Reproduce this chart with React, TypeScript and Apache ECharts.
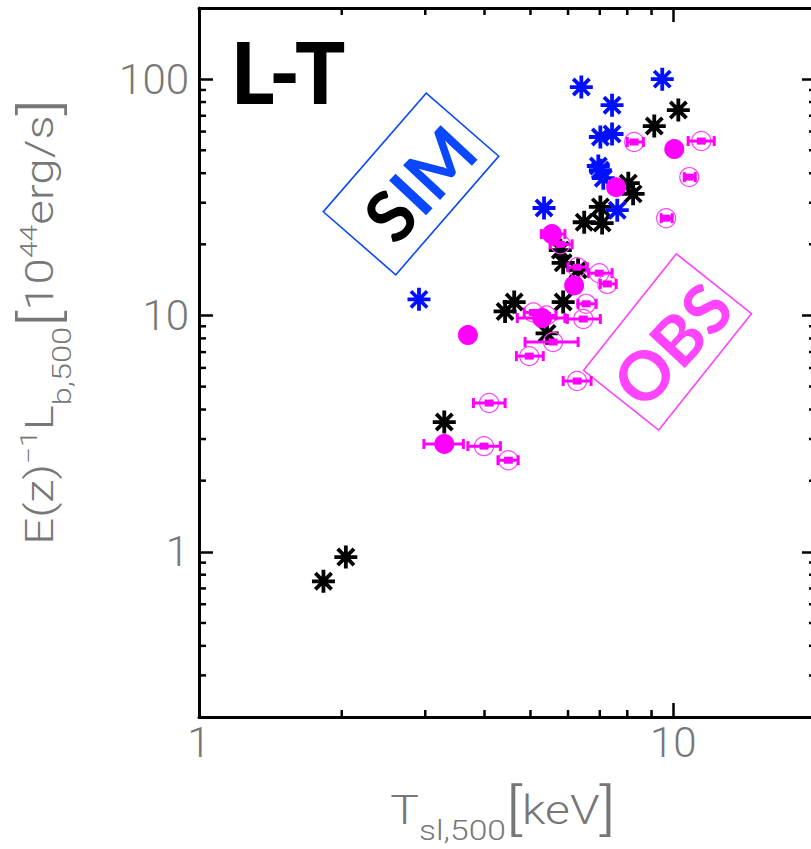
import React, { useEffect, useRef } from "react";
import * as echarts from "echarts";

// Simulated clusters (blue asterisks): [T, L]
const simBlue: [number, number][] = [
  [6.40, 92.6], [9.48, 100], [7.43, 77.6], [7.02, 56.9], [7.43, 58.6],
  [6.95, 42.9], [7.02, 41.2], [7.12, 38.1], [5.34, 28.5], [7.62, 27.9], [2.91, 11.7],
];
// Simulated clusters (black asterisks): [T, L]
const simBlack: [number, number][] = [
  [10.25, 74.0], [9.12, 63.3], [8.04, 36.3], [8.23, 32.7], [7.02, 28.8], [6.49, 24.8],
  [7.08, 24.6], [5.78, 18.9], [5.86, 16.7], [6.30, 15.6], [4.62, 11.4], [4.42, 10.4],
  [5.86, 11.4], [5.42, 8.4], [3.29, 3.54], [2.04, 0.95], [1.83, 0.75],
];
// Observed clusters, filled circles: [T, L, Tlow, Thigh]
const obsFilled: [number, number, number, number][] = [
  [10.05, 50.6, 10.05, 10.05], [7.58, 34.9, 7.58, 7.58], [5.55, 22.1, 5.27, 5.91],
  [6.18, 13.4, 6.18, 6.18], [5.29, 9.75, 4.69, 5.91], [3.69, 8.26, 3.69, 3.69],
  [3.29, 2.86, 2.98, 3.61],
];
// Observed clusters, open circles with error bars: [T, L, Tlow, Thigh]
const obsOpen: [number, number, number, number][] = [
  [8.27, 54.2, 8.00, 8.65], [11.46, 54.7, 10.75, 12.2], [10.81, 38.5, 10.55, 11.13],
  [9.66, 25.8, 9.43, 9.95], [5.78, 20.0, 5.50, 6.12], [6.27, 16.0, 6.00, 6.59],
  [6.98, 15.1, 6.62, 7.43], [7.26, 13.6, 7.02, 7.58], [6.55, 11.2, 6.30, 6.88],
  [5.07, 10.3, 4.85, 5.30], [5.40, 10.0, 5.24, 5.66], [6.46, 9.66, 5.98, 7.02],
  [5.58, 7.72, 4.87, 6.30], [4.97, 6.73, 4.67, 5.32], [6.27, 5.28, 5.86, 6.71],
  [4.09, 4.26, 3.79, 4.42], [3.99, 2.80, 3.69, 4.32], [4.49, 2.44, 4.27, 4.71],
];
const xRange = [1, 20];
const yRange = [0.2, 200];
const xMinorTicks = [2, 3, 4, 5, 6, 7, 8, 9];
const yMinorTicks = [0.3, 0.4, 0.5, 0.6, 0.7, 0.8, 0.9, 2, 3, 4, 5, 6, 7, 8, 9, 20, 30, 40, 50, 60, 70, 80, 90];

const MAG = "#ff00ff";
const MAG_LIGHT = "#ff44ff";
const BLUE = "#0010ff";
const BOX_BLUE = "#0a48ff";
const LABEL = "#777777";
const LFONT = "Roboto";
const ASTERISK = "path://M10 0V20M0 10H20M2.93 2.93L17.07 17.07M2.93 17.07L17.07 2.93";
const deg = Math.PI / 180;

export default function App() {
  const ref = useRef<HTMLDivElement>(null);
  useEffect(() => {
    if (!ref.current) return;
    const chart = echarts.init(ref.current, undefined, { renderer: "svg" });
    const axisBase = (pos: string, showLabel: boolean, isX: boolean) => ({
      type: "log",
      logBase: 10,
      min: isX ? xRange[0] : yRange[0],
      max: isX ? xRange[1] : yRange[1],
      position: pos,
      axisLine: { show: true, onZero: false, lineStyle: { color: "#000", width: 3 } },
      axisTick: { show: true, inside: true, length: 14, lineStyle: { color: "#000", width: 2.5 } },
      axisLabel: {
        show: showLabel,
        margin: isX ? 4 : 10,
        fontSize: 42,
        fontFamily: LFONT,
        fontWeight: 300,
        color: LABEL,
        showMinLabel: isX,
        showMaxLabel: false,
      },
      splitLine: { show: false },
      minorTick: { show: false },
    });
    const minorX = {
      type: "custom",
      xAxisIndex: 0,
      yAxisIndex: 0,
      silent: true,
      z: 5,
      data: xMinorTicks.map((v) => [v, 1]),
      encode: { x: 0, y: 1 },
      renderItem: (_p: any, api: any) => {
        const v = api.value(0);
        const b = api.coord([v, yRange[0]]);
        const t = api.coord([v, yRange[1]]);
        const st = { stroke: "#000", lineWidth: 2.5 };
        return {
          type: "group",
          children: [
            { type: "line", shape: { x1: b[0], y1: b[1], x2: b[0], y2: b[1] - 7 }, style: st },
            { type: "line", shape: { x1: t[0], y1: t[1], x2: t[0], y2: t[1] + 7 }, style: st },
          ],
        };
      },
    };
    const minorY = {
      type: "custom",
      xAxisIndex: 0,
      yAxisIndex: 0,
      silent: true,
      z: 5,
      data: yMinorTicks.map((v) => [2, v]),
      encode: { x: 0, y: 1 },
      renderItem: (_p: any, api: any) => {
        const v = api.value(1);
        const l = api.coord([xRange[0], v]);
        const r = api.coord([xRange[1], v]);
        const st = { stroke: "#000", lineWidth: 2.5 };
        return {
          type: "group",
          children: [
            { type: "line", shape: { x1: l[0], y1: l[1], x2: l[0] + 7, y2: l[1] }, style: st },
            { type: "line", shape: { x1: r[0], y1: r[1], x2: r[0] - 7, y2: r[1] }, style: st },
          ],
        };
      },
    };
    const errBar = (api: any, color: string) => {
      const p = api.coord([api.value(0), api.value(1)]);
      const lo = api.coord([api.value(2), api.value(1)]);
      const hi = api.coord([api.value(3), api.value(1)]);
      const st = { stroke: color, lineWidth: 3 };
      if (hi[0] - lo[0] < 1) return [];
      return [
        { type: "line", shape: { x1: lo[0], y1: p[1], x2: hi[0], y2: p[1] }, style: st },
        { type: "line", shape: { x1: lo[0], y1: p[1] - 5, x2: lo[0], y2: p[1] + 5 }, style: st },
        { type: "line", shape: { x1: hi[0], y1: p[1] - 5, x2: hi[0], y2: p[1] + 5 }, style: st },
      ];
    };
    const option: any = {
      animation: false,
      grid: { left: 199, top: 8, width: 617, height: 709, containLabel: false, outerBoundsMode: "none" },
      xAxis: [axisBase("bottom", true, true), axisBase("top", false, true)],
      yAxis: [axisBase("left", true, false), axisBase("right", false, false)],
      series: [
        minorX,
        minorY,
        {
          type: "scatter",
          name: "SIM black",
          data: simBlack,
          symbol: ASTERISK,
          symbolSize: 23,
          symbolKeepAspect: true,
          itemStyle: { color: "rgba(0,0,0,0)", borderColor: "#000", borderWidth: 3.8, opacity: 1 },
          z: 2,
        },
        {
          type: "scatter",
          name: "SIM blue",
          data: simBlue,
          symbol: ASTERISK,
          symbolSize: 23,
          symbolKeepAspect: true,
          itemStyle: { color: "rgba(0,0,0,0)", borderColor: BLUE, borderWidth: 3.8, opacity: 1 },
          z: 3,
        },
        {
          type: "custom",
          name: "OBS open",
          data: obsOpen,
          encode: { x: 0, y: 1 },
          z: 4,
          renderItem: (_p: any, api: any) => {
            const p = api.coord([api.value(0), api.value(1)]);
            return {
              type: "group",
              children: [
                { type: "circle", shape: { cx: p[0], cy: p[1], r: 9.5 }, style: { fill: "none", stroke: MAG_LIGHT, lineWidth: 1.2 } },
                ...errBar(api, MAG),
                { type: "rect", shape: { x: p[0] - 4.5, y: p[1] - 3.5, width: 9, height: 7 }, style: { fill: MAG } },
              ],
            };
          },
        },
        {
          type: "custom",
          name: "OBS filled",
          data: obsFilled,
          encode: { x: 0, y: 1 },
          z: 4,
          renderItem: (_p: any, api: any) => {
            const p = api.coord([api.value(0), api.value(1)]);
            return {
              type: "group",
              children: [
                ...errBar(api, MAG),
                { type: "circle", shape: { cx: p[0], cy: p[1], r: 10 }, style: { fill: MAG } },
              ],
            };
          },
        },
      ],
      graphic: [
        {
          type: "text",
          x: 288,
          y: 71,
          scaleX: 0.97,
          style: { text: "L-T", font: "900 86px Lato", fill: "#000", align: "center", verticalAlign: "middle" },
        },
        {
          type: "rect",
          x: 411,
          y: 184,
          rotation: 49 * deg,
          shape: { x: -78.5, y: -48, width: 157, height: 96 },
          style: { fill: "none", stroke: BOX_BLUE, lineWidth: 1.6 },
        },
        {
          type: "text",
          x: 419,
          y: 183,
          rotation: 47 * deg,
          style: {
            text: "{k|S}{b|IM}",
            font: "bold 70px Lato",
            align: "center",
            verticalAlign: "middle",
            rich: {
              k: { font: "bold 70px Lato", fill: "#000" },
              b: { font: "bold 70px Lato", fill: BOX_BLUE },
            },
          },
        },
        {
          type: "rect",
          x: 667.5,
          y: 342,
          rotation: 51.5 * deg,
          shape: { x: -74.5, y: -48, width: 149, height: 96 },
          style: { fill: "none", stroke: MAG_LIGHT, lineWidth: 1.6 },
        },
        {
          type: "text",
          x: 671,
          y: 344,
          rotation: 47 * deg,
          style: { text: "OBS", font: "bold 68px Lato", fill: MAG_LIGHT, align: "center", verticalAlign: "middle" },
        },
        {
          type: "text",
          x: 40,
          y: 322,
          rotation: 90 * deg,
          scaleX: 1.25,
          style: {
            text: "E(z){sup|−1}L{sub|b,500}{br|[}10{sup|44}erg/s{br|]}",
            font: "300 38px Roboto",
            fill: LABEL,
            lineHeight: 56,
            align: "center",
            verticalAlign: "middle",
            rich: {
              sup: { font: "300 24px Roboto", fill: LABEL, height: 34, verticalAlign: "top" },
              sub: { font: "300 26px Roboto", fill: LABEL, height: 12, verticalAlign: "bottom" },
              br: { font: "300 54px Roboto", fill: LABEL },
            },
          },
        },
        {
          type: "text",
          x: 503,
          y: 810,
          scaleX: 1.2,
          style: {
            text: "T{sub|sl,500}{br|[}keV{br|]}",
            font: "300 40px Roboto",
            fill: LABEL,
            lineHeight: 56,
            align: "center",
            verticalAlign: "middle",
            rich: {
              sub: { font: "300 28px Roboto", fill: LABEL, height: 14, verticalAlign: "bottom" },
              br: { font: "300 56px Roboto", fill: LABEL },
            },
          },
        },
      ],
    };
    chart.setOption(option);
    return () => chart.dispose();
  }, []);
  return <div ref={ref} style={{ position: "absolute", left: 0, top: 0, width: 811, height: 849, background: "#fff" }} />;
}
